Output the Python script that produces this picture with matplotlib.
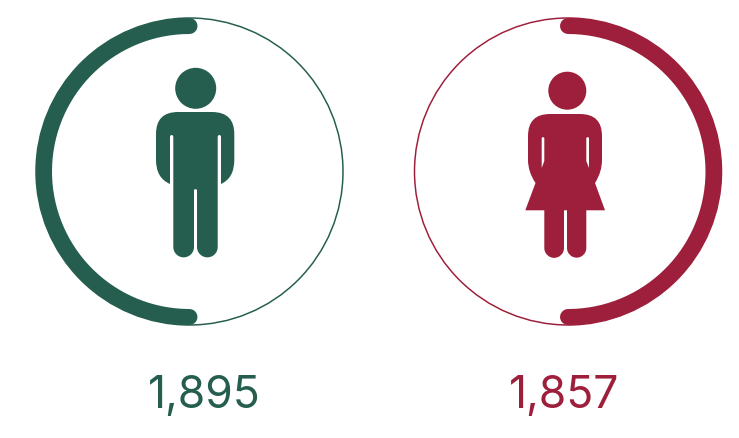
import numpy as np
import matplotlib
matplotlib.use("Agg")
import matplotlib.pyplot as plt
from matplotlib.path import Path
from matplotlib.patches import PathPatch, Circle

plt.rcParams['font.family'] = ['Inter', 'Open Sans', 'DejaVu Sans']

groups = ["Male", "Female"]
counts = [1895, 1857]
count_labels = ["1,895", "1,857"]
arc_shares = [0.5, 0.5]
colors = ["#255E4F", "#9E1F3B"]
centres_x = [189.5, 568]
arc_dirs = [1, -1]   # counter-clockwise from top for male, clockwise for female

W, H = 739, 439
fig = plt.figure(figsize=(W / 100, H / 100), dpi=100)
ax = fig.add_axes([0, 0, 1, 1])
ax.set_xlim(0, W)
ax.set_ylim(H - 1, -1)
ax.axis("off")
PX = 72 / 100


def build(cmds):
    verts, codes = [], []
    for c in cmds:
        if c[0] == "M":
            verts.append(c[1]); codes.append(Path.MOVETO)
        elif c[0] == "L":
            verts.append(c[1]); codes.append(Path.LINETO)
        elif c[0] == "Q":
            verts += [c[1], c[2]]; codes += [Path.CURVE3, Path.CURVE3]
        elif c[0] == "S":  # semicircle bulging downward from c[1] to c[2]
            (x1, y), (x2, _) = c[1], c[2]
            r = abs(x1 - x2) / 2
            k = 0.5523 * r
            xm = (x1 + x2) / 2
            s = 1 if x2 < x1 else -1
            verts += [(x1, y + k), (xm + s * k, y + r), (xm, y + r),
                      (xm - s * k, y + r), (x2, y + k), (x2, y)]
            codes += [Path.CURVE4] * 6
        elif c[0] == "Z":
            verts.append(verts[0]); codes.append(Path.CLOSEPOLY)
    return Path(verts, codes)


male = build([
    ("M", (178, 112)), ("L", (212, 112)), ("Q", (234.3, 112), (234.3, 134)),
    ("L", (234.3, 160)), ("Q", (234.3, 178), (221, 184)),
    ("L", (221, 137)), ("Q", (221, 135), (219.4, 135)), ("Q", (217.7, 135), (217.7, 137)),
    ("L", (217.7, 247)), ("S", (217.7, 247), (197, 247)),
    ("L", (197, 190)), ("Q", (195.5, 188), (194, 190)),
    ("L", (194, 247)), ("S", (194, 247), (173.3, 247)),
    ("L", (173.3, 137)), ("Q", (173.3, 135), (171.7, 135)), ("Q", (170, 135), (170, 137)),
    ("L", (170, 184)), ("Q", (156, 178), (156, 160)),
    ("L", (156, 134)), ("Q", (156, 112), (178, 112)), ("Z",),
])

female = build([
    ("M", (550, 114)), ("L", (580, 114)), ("Q", (602, 114), (602, 136)),
    ("L", (602, 160)), ("Q", (602, 172), (595, 183)),
    ("L", (605, 210.3)), ("L", (586.3, 210.3)), ("L", (586.3, 248)),
    ("S", (586.3, 248), (567, 248)), ("L", (567, 210.3)), ("L", (564, 210.3)),
    ("L", (564, 248)), ("S", (564, 248), (544.3, 248)), ("L", (544.3, 210.3)),
    ("L", (525.3, 210.3)), ("L", (535.5, 183)), ("Q", (528, 172), (528, 160)),
    ("L", (528, 136)), ("Q", (528, 114), (550, 114)), ("Z",),
])
slots = [
    build([("M", (541.7, 138)), ("L", (541.7, 168)), ("L", (544.3, 161)), ("L", (544.3, 138)),
           ("Q", (543, 136), (541.7, 138)), ("Z",)]),
    build([("M", (589, 138)), ("L", (589, 168)), ("L", (586.3, 161)), ("L", (586.3, 138)),
           ("Q", (587.6, 136), (589, 138)), ("Z",)]),
]

icons = [male, female]
heads = [((195.7, 88.3), 20.5), ((567.3, 90.7), 19.0)]
CY, R_THIN, R_THICK = 171.5, 153.5, 145.5

for i, g in enumerate(groups):
    cx, col = centres_x[i], colors[i]
    ax.add_patch(Circle((cx, CY), R_THIN, fill=False, ec=col, lw=1.5 * PX))
    t = np.linspace(0, 2 * np.pi * arc_shares[i], 200)
    ax.plot(cx - arc_dirs[i] * R_THICK * np.sin(t), CY - R_THICK * np.cos(t),
            color=col, lw=16 * PX, solid_capstyle="round")
    ax.add_patch(PathPatch(icons[i], fc=col, ec="none"))
    ax.add_patch(Circle(heads[i][0], heads[i][1], fc=col, ec="none"))
    ax.text([204, 564][i], 390.5, count_labels[i], color=col, fontsize=32,
            fontweight="normal", ha="center", va="center_baseline")

for s in slots:
    ax.add_patch(PathPatch(s, fc="white", ec="none"))

fig.savefig("out.png", dpi=100, facecolor="white")
